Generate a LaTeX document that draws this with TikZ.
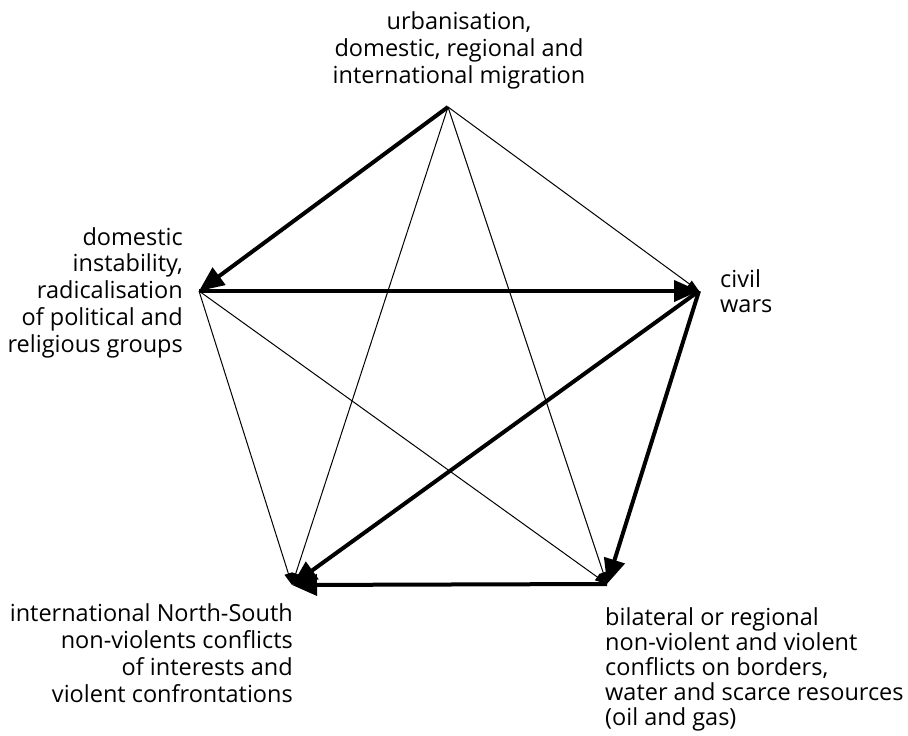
\documentclass[tikz,border=0pt]{standalone}
\usepackage{fontspec}
\setmainfont{Open Sans}
\usetikzlibrary{arrows.meta}
\begin{document}
\begin{tikzpicture}[x=1pt,y=-1pt,
  thickarr/.style={line width=4pt,-{Triangle[length=25pt,width=21pt]}},
  thinarr/.style={line width=1pt,-{Triangle[length=12pt,width=8pt]}},
  lab/.style={font=\fontsize{23.5}{26.7}\selectfont,inner sep=0pt},
  labb/.style={font=\fontsize{23.5}{25}\selectfont,inner sep=0pt}]
\useasboundingbox (0,0) rectangle (908,736);
\coordinate (T) at (448,107);
\coordinate (L) at (199,291);
\coordinate (R) at (699,291);
\coordinate (BL) at (292,585);
\coordinate (BR) at (607,584);
\node[lab,align=center,anchor=base] (tt) at (459,83) {urbanisation,\\domestic, regional and\\international migration};
\node[lab,align=right,anchor=base east] (lt) at (183,352) {domestic\\instability,\\radicalisation\\of political and\\religious groups};
\node[labb,align=left,anchor=base west] (rt) at (720,312) {civil\\wars};
\node[lab,align=right,anchor=base east] (blt) at (293,702) {international North-South\\non-violents conflicts\\of interests and\\violent confrontations};
\node[labb,align=left,anchor=base west] (brt) at (605,725) {bilateral or regional\\non-violent and violent\\conflicts on borders,\\water and scarce resources\\(oil and gas)};
\draw[thinarr] (T) -- (R);
\draw[thinarr] (T) -- (BL);
\draw[thinarr] (T) -- (BR);
\draw[thinarr] (L) -- (BL);
\draw[thinarr] (L) -- (BR);
\draw[thickarr] (T) -- (L);
\draw[thickarr] (L) -- (R);
\draw[thickarr] (R) -- (BL);
\draw[thickarr] (R) -- (BR);
\draw[thickarr] (BR) -- (BL);
\end{tikzpicture}
\end{document}
